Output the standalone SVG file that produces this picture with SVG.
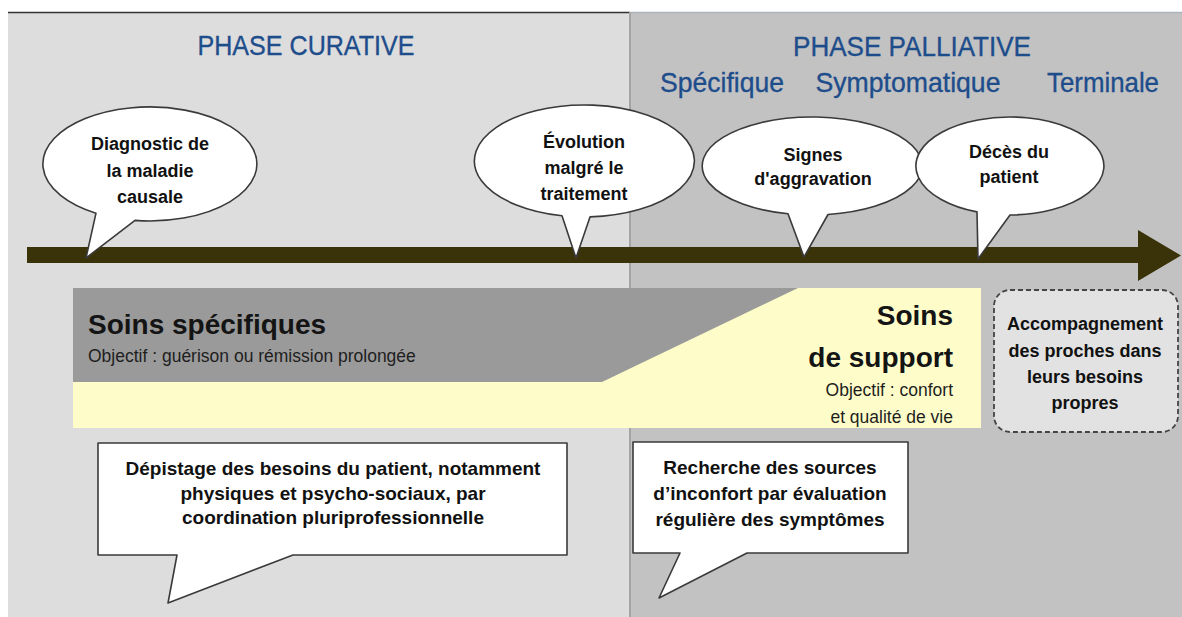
<svg xmlns="http://www.w3.org/2000/svg" width="1182" height="617" viewBox="0 0 1182 617">
<style>
  .title { font-family: "Liberation Sans", Arial, sans-serif; font-size: 28px; fill: #1e4d8c; text-anchor: middle; stroke: #1e4d8c; stroke-width: 0.35; }
  .bt { font-family: "Liberation Sans", Arial, sans-serif; font-size: 18px; font-weight: bold; fill: #111; text-anchor: middle; }
  .boxt { font-family: "Liberation Sans", Arial, sans-serif; font-size: 19px; font-weight: bold; fill: #111; text-anchor: middle; }
  .big { font-family: "Liberation Sans", Arial, sans-serif; font-size: 28px; font-weight: bold; fill: #141414; }
  .obj { font-family: "Liberation Sans", Arial, sans-serif; font-size: 17.5px; fill: #1e1e1e; }
  .bubble { fill: #ffffff; stroke: #3a3a3a; stroke-width: 1.6; stroke-linejoin: round; }
</style>
<rect x="0" y="0" width="1182" height="617" fill="#ffffff"/>
<g id="background">
  <rect x="8" y="12" width="622" height="605" fill="#dddddd"/>
  <rect x="630" y="12" width="552" height="605" fill="#c2c2c2"/>
  <line x1="8" y1="12.5" x2="630" y2="12.5" stroke="#333333" stroke-width="1.5"/>
  <line x1="630" y1="12.5" x2="1182" y2="12.5" stroke="#aab4c0" stroke-width="1.5"/>
  <line x1="630" y1="12" x2="630" y2="617" stroke="#a4a4a4" stroke-width="2"/>
</g>
<g id="titles">
  <text class="title" x="306" y="55" textLength="217" lengthAdjust="spacingAndGlyphs">PHASE CURATIVE</text>
  <text class="title" x="912" y="56" textLength="238" lengthAdjust="spacingAndGlyphs">PHASE PALLIATIVE</text>
  <text class="title" x="722" y="92" textLength="124" lengthAdjust="spacingAndGlyphs">Spécifique</text>
  <text class="title" x="908" y="92" textLength="185" lengthAdjust="spacingAndGlyphs">Symptomatique</text>
  <text class="title" x="1103" y="92" textLength="112" lengthAdjust="spacingAndGlyphs">Terminale</text>
</g>
<g id="bands">
  <rect x="73" y="288" width="908" height="140" fill="#fefdca"/>
  <polygon points="73,288 798,288 602,382 73,382" fill="#9a9a9a"/>
  <text class="big" x="88" y="334">Soins spécifiques</text>
  <text class="obj" x="88" y="362">Objectif : guérison ou rémission prolongée</text>
  <text class="big" x="953" y="325" text-anchor="end">Soins</text>
  <text class="big" x="953" y="367" text-anchor="end">de support</text>
  <text class="obj" x="953" y="396" text-anchor="end">Objectif : confort</text>
  <text class="obj" x="953" y="423" text-anchor="end">et qualité de vie</text>
</g>
<g id="connectors">
  <path d="M27 247 H1138 V230 L1181 255.5 L1138 281 V263 H27 Z" fill="#3a3209"/>
</g>
<g id="bubble-diagnostic">
  <path class="bubble" d="M96 213.2 A107 57 0 1 1 135 220.4 L86 258 Z"/>
  <text class="bt" x="150" y="150">Diagnostic de</text>
  <text class="bt" x="150" y="177">la maladie</text>
  <text class="bt" x="150" y="203">causale</text>
</g>
<g id="bubble-evolution">
  <path class="bubble" d="M562 215.8 A110 56 0 1 1 590 216.9 L576 258 Z"/>
  <text class="bt" x="584" y="148">Évolution</text>
  <text class="bt" x="584" y="174">malgré le</text>
  <text class="bt" x="584" y="200">traitement</text>
</g>
<g id="bubble-signes">
  <path class="bubble" d="M788 213.8 A110 49 0 1 1 828 214.5 L804 257 Z"/>
  <text class="bt" x="813" y="161">Signes</text>
  <text class="bt" x="813" y="185">d'aggravation</text>
</g>
<g id="bubble-deces">
  <path class="bubble" d="M977 211.9 A94 49 0 1 1 1010 215 L978 259 Z"/>
  <text class="bt" x="1009" y="158">Décès du</text>
  <text class="bt" x="1009" y="183">patient</text>
</g>
<g id="box-depistage">
  <path class="bubble" d="M98 443 H567 V555 H293 L168 603 L177 555 H98 Z"/>
  <text class="boxt" x="333" y="475">Dépistage des besoins du patient, notamment</text>
  <text class="boxt" x="333" y="499.5">physiques et psycho-sociaux, par</text>
  <text class="boxt" x="333" y="524">coordination pluriprofessionnelle</text>
</g>
<g id="box-recherche">
  <path class="bubble" d="M633 442 H908 V553 H747 L659 598 L680 553 H633 Z"/>
  <text class="boxt" x="770" y="474">Recherche des sources</text>
  <text class="boxt" x="770" y="500">d’inconfort par évaluation</text>
  <text class="boxt" x="770" y="526">régulière des symptômes</text>
</g>
<g id="box-accompagnement">
  <rect x="994" y="290" width="184" height="142" rx="16" ry="16" fill="#e2e2e2" stroke="#444444" stroke-width="1.8" stroke-dasharray="5 3"/>
  <text class="bt" x="1085" y="330">Accompagnement</text>
  <text class="bt" x="1085" y="357">des proches dans</text>
  <text class="bt" x="1085" y="383">leurs besoins</text>
  <text class="bt" x="1085" y="409">propres</text>
</g>
</svg>
